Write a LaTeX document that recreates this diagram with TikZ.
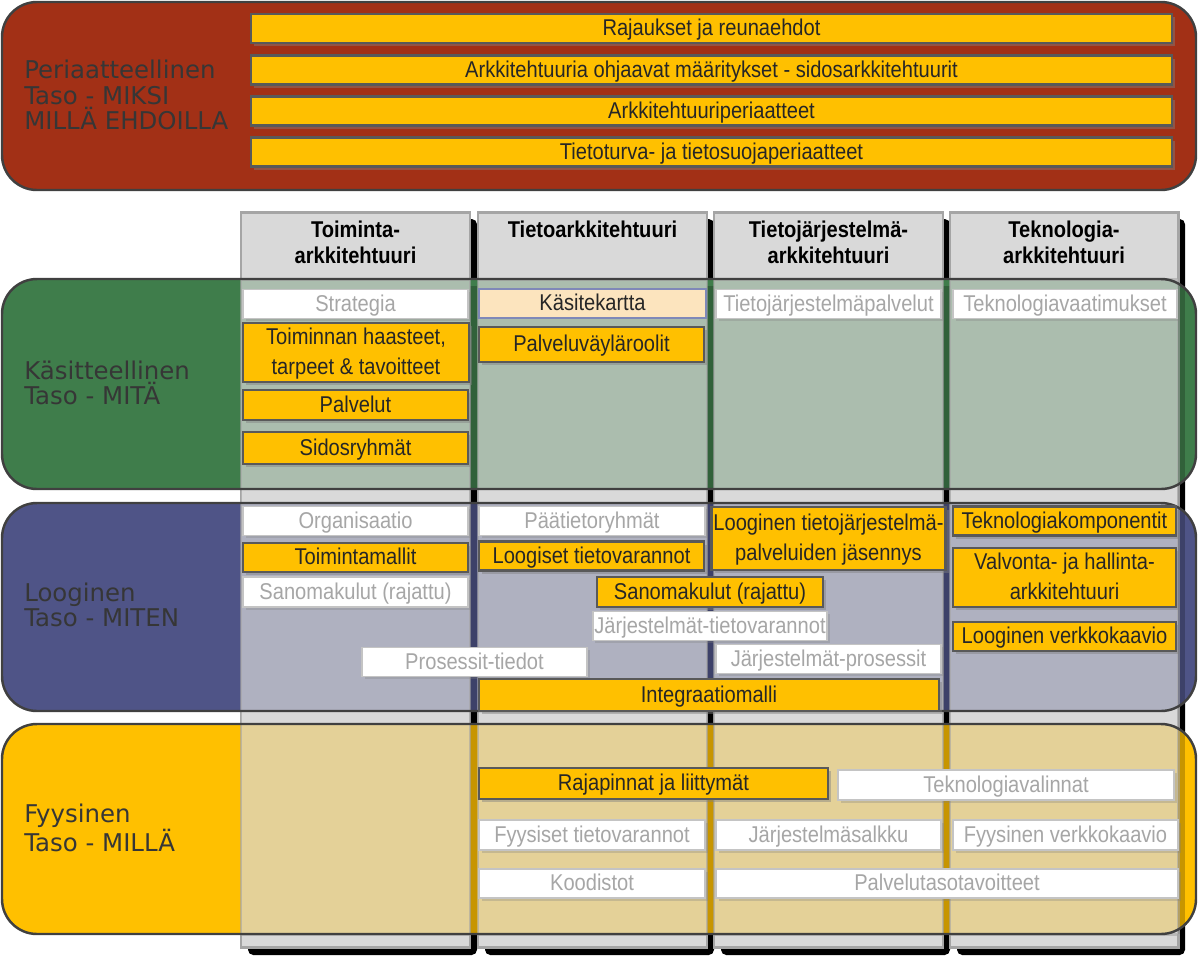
\documentclass[tikz,border=0pt]{standalone}
\usepackage{fontspec}
\newfontfamily\boxfont{Liberation Sans}[FakeStretch=0.88]
\newfontfamily\layerfont{DejaVu Sans}
\usepackage{xcolor}
\definecolor{clRust}{HTML}{A23016}
\definecolor{clGreen}{HTML}{3F7D4B}
\definecolor{clBlue}{HTML}{4F5487}
\definecolor{clGold}{HTML}{FFC000}
\definecolor{clEdge}{HTML}{404040}
\definecolor{clLabel}{HTML}{363636}
\definecolor{clBoxEdge}{HTML}{595959}
\definecolor{clColumn}{HTML}{D9D9D9}
\definecolor{clColumnEdge}{HTML}{A5A5A5}
\definecolor{clMuted}{HTML}{A6A6A6}
\definecolor{clWhiteEdge}{HTML}{C4C4C4}
\definecolor{clPeach}{HTML}{FCE4BE}
\definecolor{clPeachEdge}{HTML}{7F88B8}
\definecolor{clText}{HTML}{262626}
\usepackage{tikz}
\usetikzlibrary{shadows}
\tikzset{
  layer/.style={rounded corners=0.7cm, draw=clEdge, line width=1.4pt},
  layerlabel/.style={anchor=west, align=left, text=clLabel, inner sep=0pt,
              font=\layerfont\fontsize{13.9}{14.3}\selectfont},
  colhead/.style={anchor=north, align=center, inner sep=0pt,
              font=\boxfont\bfseries\fontsize{13}{14.4}\selectfont},
  cell/.style={rectangle, align=center, inner sep=1pt, minimum width=4.5cm,
              minimum height=0.58cm, text depth=0.3ex,
              font=\boxfont\fontsize{13}{16.8}\selectfont},
  goldbox/.style={cell, fill=clGold, draw=clBoxEdge, line width=1.6pt, text=clText,
              drop shadow={shadow xshift=1.8pt, shadow yshift=-1.8pt, opacity=0.45}},
  plainbox/.style={cell, fill=white, draw=clWhiteEdge, line width=1.1pt, text=clMuted,
              drop shadow={shadow xshift=1.5pt, shadow yshift=-1.5pt, opacity=0.3}},
  conceptbox/.style={cell, fill=clPeach, draw=clPeachEdge, line width=1.6pt, text=clText},
}

\begin{document}
\begin{tikzpicture}[x=0.02cm, y=-0.02cm]
  \useasboundingbox (0,0) rectangle (1198,961);

  % principle layer
  \draw[layer, fill=clRust] (2,2) rectangle (1196,190);
  \node[layerlabel] (lblPrinc) at (24,95) {Periaatteellinen\\Taso - MIKSI\\MILLÄ EHDOILLA};
  \node[goldbox, minimum width=18.42cm] (rajaukset) at (711.5,28.5) {Rajaukset ja reunaehdot};
  \node[goldbox, minimum width=18.42cm] (maaritykset) at (711.5,70) {Arkkitehtuuria ohjaavat määritykset - sidosarkkitehtuurit};
  \node[goldbox, minimum width=18.42cm] (periaatteet) at (711.5,111) {Arkkitehtuuriperiaatteet};
  \node[goldbox, minimum width=18.42cm] (tietoturva) at (711.5,152) {Tietoturva- ja tietosuojaperiaatteet};

  % columns
  \foreach \xa/\xb in {241/470, 478/707, 714/943, 950/1178} {
    \fill[black, rounded corners=3pt] (\xa+7,219) rectangle (\xb+7,955);
    \draw[fill=clColumn, draw=clColumnEdge, line width=1.7pt] (\xa,212) rectangle (\xb,947);
  }
  \node[colhead] (hdToiminta) at (355.5,221) {Toiminta-\\arkkitehtuuri};
  \node[colhead] (hdTieto) at (592.5,221) {Tietoarkkitehtuuri};
  \node[colhead] (hdJarjestelma) at (828.5,221) {Tietojärjestelmä-\\arkkitehtuuri};
  \node[colhead] (hdTeknologia) at (1064,221) {Teknologia-\\arkkitehtuuri};

  % layer bands, tinted by the columns
  \fill[rounded corners=0.7cm, clGreen] (2,279) rectangle (1196,489);
  \fill[rounded corners=0.7cm, clBlue] (2,503) rectangle (1196,711);
  \fill[rounded corners=0.7cm, clGold] (2,724) rectangle (1196,934);
  \foreach \xa/\xb in {241/470, 478/707, 714/943, 950/1178} {
    \fill[black, opacity=0.22] (\xb,286) rectangle (\xb+7,934);
    \draw[fill=clColumn, fill opacity=0.7, draw=clColumnEdge, draw opacity=0.6, line width=1.7pt]
      (\xa,279) rectangle (\xb,934);
  }
  \draw[layer] (2,279) rectangle (1196,489);
  \draw[layer] (2,503) rectangle (1196,711);
  \draw[layer] (2,724) rectangle (1196,934);
  \node[layerlabel] (lblConcept) at (24,383) {Käsitteellinen\\Taso - MITÄ};
  \node[layerlabel] (lblLogic) at (24,604.5) {Looginen\\Taso - MITEN};
  \node[layerlabel] (lblPhys) at (24,827.5) {Fyysinen\\Taso - MILLÄ};

  % conceptual layer
  \node[plainbox] (strategia) at (355.5,304) {Strategia};
  \node[conceptbox, minimum width=4.54cm] (kasitekartta) at (592.5,303.5) {Käsitekartta};
  \node[plainbox] (tjPalvelut) at (828.5,304) {Tietojärjestelmäpalvelut};
  \node[plainbox, minimum width=4.48cm] (tekVaatimukset) at (1065,304) {Teknologiavaatimukset};
  \node[goldbox, minimum width=4.52cm, minimum height=1.18cm] (haasteet) at (356,352.5) {Toiminnan haasteet,\\tarpeet \& tavoitteet};
  \node[goldbox, minimum height=0.7cm] (palveluvayla) at (591.5,344.5) {Palveluväyläroolit};
  \node[goldbox, minimum height=0.6cm] (palvelut) at (355.5,405) {Palvelut};
  \node[goldbox, minimum height=0.64cm] (sidosryhmat) at (355.5,448) {Sidosryhmät};

  % logical layer
  \node[plainbox] (organisaatio) at (355.5,521) {Organisaatio};
  \node[plainbox, minimum width=4.52cm] (paatieto) at (592,521) {Päätietoryhmät};
  \node[goldbox, minimum height=1.26cm] (ltjJasennys) at (828.5,538.5) {Looginen tietojärjestelmä-\\palveluiden jäsennys};
  \node[goldbox, minimum width=4.46cm] (tekKomp) at (1064.5,521) {Teknologiakomponentit};
  \node[goldbox] (toimintamallit) at (355.5,557.5) {Toimintamallit};
  \node[goldbox] (loogTietovar) at (591.5,556) {Loogiset tietovarannot};
  \node[plainbox, minimum height=0.6cm] (sanomaToim) at (355.5,592) {Sanomakulut (rajattu)};
  \node[goldbox, minimum width=4.52cm, minimum height=0.6cm] (sanomaTieto) at (710,592) {Sanomakulut (rajattu)};
  \node[goldbox, minimum width=4.46cm, minimum height=1.18cm] (valvonta) at (1064.5,577.5) {Valvonta- ja hallinta-\\arkkitehtuuri};
  \node[plainbox, minimum width=4.52cm] (jarjTietovar) at (710,626) {Järjestelmät-tietovarannot};
  \node[goldbox, minimum width=4.46cm] (loogVerkko) at (1064.5,636.5) {Looginen verkkokaavio};
  \node[plainbox] (prosTiedot) at (474.5,662) {Prosessit-tiedot};
  \node[plainbox] (jarjProsessit) at (828.5,659) {Järjestelmät-prosessit};
  \node[goldbox, minimum width=9.2cm, minimum height=0.64cm] (integraatio) at (709,695) {Integraatiomalli};

  % physical layer
  \node[goldbox, minimum width=6.98cm, minimum height=0.62cm] (rajapinnat) at (653.5,783.5) {Rajapinnat ja liittymät};
  \node[plainbox, minimum width=6.72cm, minimum height=0.6cm] (tekValinnat) at (1006,785) {Teknologiavalinnat};
  \node[plainbox, minimum width=4.52cm, minimum height=0.6cm] (fyysTietovar) at (592,835) {Fyysiset tietovarannot};
  \node[plainbox, minimum height=0.6cm] (jarjSalkku) at (828.5,835) {Järjestelmäsalkku};
  \node[plainbox, minimum height=0.6cm] (fyysVerkko) at (1065.5,835) {Fyysinen verkkokaavio};
  \node[plainbox, minimum width=4.52cm] (koodistot) at (592,883.5) {Koodistot};
  \node[plainbox, minimum width=9.24cm] (palvelutaso) at (947,883.5) {Palvelutasotavoitteet};
\end{tikzpicture}
\end{document}
